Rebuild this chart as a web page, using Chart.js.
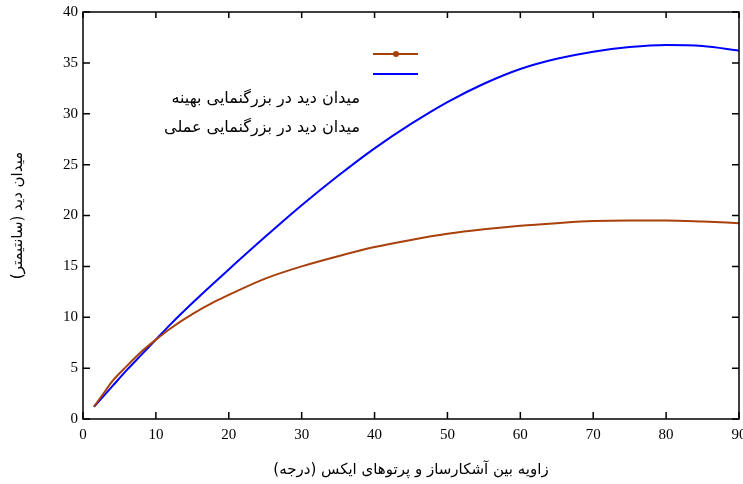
<!DOCTYPE html>
<html>
<head>
<meta charset="utf-8">
<script src="https://cdn.jsdelivr.net/npm/chart.js@4"></script>
<style>
  html, body { margin: 0; padding: 0; background: #fff; }
  #wrap { width: 743px; height: 484px; }
</style>
</head>
<body>
<div id="wrap"><canvas id="fov" width="743" height="484"></canvas></div>
<script>
// زاویه (درجه)
const angles = [1.5, 3, 4, 6, 8, 10, 12, 15, 18, 20, 25, 30, 35, 40, 45, 50, 55, 60, 65, 70, 75, 80, 85, 90];
// میدان دید (سانتیمتر)
const optimalFov = [1.2, 2.7, 3.7, 5.2, 6.6, 7.8, 8.9, 10.3, 11.5, 12.2, 13.8, 15.0, 16.0, 16.9, 17.6, 18.2, 18.65, 19.0, 19.25, 19.45, 19.5, 19.5, 19.4, 19.25];
const practicalFov = [1.2, 2.4, 3.2, 4.8, 6.3, 7.8, 9.3, 11.4, 13.4, 14.7, 17.9, 21.0, 23.9, 26.6, 29.0, 31.15, 32.95, 34.4, 35.4, 36.1, 36.55, 36.75, 36.65, 36.2];
const seriesNames = ['میدان دید در بزرگنمایی بهینه', 'میدان دید در بزرگنمایی عملی'];
const xTicks = [0, 10, 20, 30, 40, 50, 60, 70, 80, 90];
const yTicks = [0, 5, 10, 15, 20, 25, 30, 35, 40];

const toPoints = (xs, ys) => xs.map((x, i) => ({ x: x, y: ys[i] }));

// frame, inward tick marks and the legend
const framePlugin = {
  id: 'frame',
  afterDraw(chart) {
    const ctx = chart.ctx;
    const a = chart.chartArea;
    const xs = chart.scales.x, ys = chart.scales.y;
    ctx.save();
    ctx.strokeStyle = '#000';
    ctx.lineWidth = 1.5;
    ctx.strokeRect(a.left, a.top, a.right - a.left, a.bottom - a.top);
    ctx.beginPath();
    xTicks.forEach(v => {
      const px = xs.getPixelForValue(v);
      ctx.moveTo(px, a.bottom); ctx.lineTo(px, a.bottom - 7);
      ctx.moveTo(px, a.top); ctx.lineTo(px, a.top + 6);
    });
    yTicks.forEach(v => {
      const py = ys.getPixelForValue(v);
      ctx.moveTo(a.left, py); ctx.lineTo(a.left + 7, py);
      ctx.moveTo(a.right, py); ctx.lineTo(a.right - 7, py);
    });
    ctx.stroke();

    // legend: samples above, names below
    const ds = chart.data.datasets;
    ctx.lineWidth = 2;
    ctx.strokeStyle = ds[0].borderColor;
    ctx.beginPath(); ctx.moveTo(373, 54); ctx.lineTo(418, 54); ctx.stroke();
    ctx.fillStyle = ds[0].borderColor;
    ctx.beginPath(); ctx.arc(396, 54, 3, 0, Math.PI * 2); ctx.fill();
    ctx.strokeStyle = ds[1].borderColor;
    ctx.beginPath(); ctx.moveTo(373, 74); ctx.lineTo(418, 74); ctx.stroke();

    ctx.fillStyle = '#000';
    ctx.font = '16px "DejaVu Sans"';
    ctx.direction = 'rtl';
    ctx.textAlign = 'right';
    ctx.textBaseline = 'middle';
    ctx.fillText(ds[0].label, 360, 99);
    ctx.fillText(ds[1].label, 360, 128);
    ctx.restore();
  }
};

new Chart(document.getElementById('fov').getContext('2d'), {
  type: 'line',
  data: {
    datasets: [
      {
        label: seriesNames[0],
        data: toPoints(angles, optimalFov),
        borderColor: '#a8400c',
        borderWidth: 2,
        pointRadius: 0,
        cubicInterpolationMode: 'monotone'
      },
      {
        label: seriesNames[1],
        data: toPoints(angles, practicalFov),
        borderColor: '#0000ff',
        borderWidth: 2,
        pointRadius: 0,
        cubicInterpolationMode: 'monotone'
      }
    ]
  },
  options: {
    responsive: false,
    animation: false,
    layout: { padding: { top: 12, right: 4, left: 0, bottom: 0 } },
    plugins: {
      legend: { display: false },
      tooltip: { enabled: false }
    },
    scales: {
      x: {
        type: 'linear',
        min: 0,
        max: 90,
        afterBuildTicks: s => { s.ticks = xTicks.map(v => ({ value: v })); },
        afterFit: s => { s.height = 65; s.paddingLeft = 0; s.paddingRight = 0; },
        grid: { display: false, drawTicks: false },
        border: { display: false },
        ticks: {
          color: '#000',
          padding: 7,
          maxRotation: 0,
          font: { family: 'Liberation Serif', size: 15 }
        },
        title: {
          display: true,
          text: 'زاویه بین آشکارساز و پرتوهای ایکس (درجه)',
          color: '#000',
          font: { family: 'DejaVu Sans', size: 15 },
          padding: { top: 0, bottom: 5 }
        }
      },
      y: {
        type: 'linear',
        min: 0,
        max: 40,
        afterBuildTicks: s => { s.ticks = yTicks.map(v => ({ value: v })); },
        afterFit: s => { s.width = 83; s.paddingTop = 0; s.paddingBottom = 0; },
        grid: { display: false, drawTicks: false },
        border: { display: false },
        ticks: {
          color: '#000',
          padding: 5,
          font: { family: 'Liberation Serif', size: 15 }
        },
        title: {
          display: true,
          text: 'میدان دید (سانتیمتر)',
          color: '#000',
          font: { family: 'DejaVu Sans', size: 15 },
          padding: { top: 9, bottom: 0 }
        }
      }
    }
  },
  plugins: [framePlugin]
});
</script>
</body>
</html>
